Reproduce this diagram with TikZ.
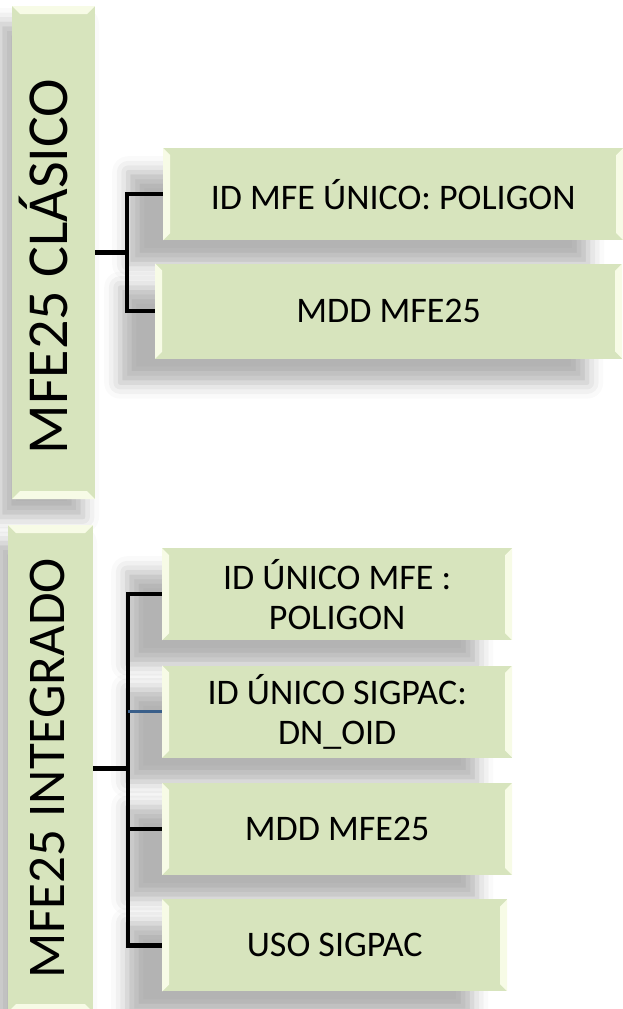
\documentclass[tikz,border=0pt]{standalone}
\usepackage{fontspec}
\usepackage{graphicx}
\setmainfont{Carlito}
\usetikzlibrary{positioning, shadows.blur}
\definecolor{boxgreen}{RGB}{215, 228, 189}
\definecolor{bevellight}{RGB}{247, 251, 230}
\definecolor{linkblue}{RGB}{58, 95, 138}

\begin{document}
\begin{tikzpicture}[x=1pt, y=1pt,
    groupbox/.style={rectangle, fill=boxgreen, inner sep=0pt, align=center,
                     blur shadow={shadow xshift=-12pt, shadow yshift=-18pt,
                                  shadow blur radius=16pt, shadow opacity=30},
                     path picture={
                       \fill[bevellight] (path picture bounding box.north west) -- (path picture bounding box.north east)
                         -- ([shift={(-8,-8)}]path picture bounding box.north east) -- ([shift={(8,-8)}]path picture bounding box.north west) -- cycle;
                       \fill[bevellight] (path picture bounding box.south west) -- (path picture bounding box.south east)
                         -- ([shift={(-8,8)}]path picture bounding box.south east) -- ([shift={(8,8)}]path picture bounding box.south west) -- cycle;
                     }},
    itembox/.style={rectangle, fill=boxgreen, inner sep=0pt, align=center,
                    minimum height=92pt, font=\fontsize{36}{40}\selectfont,
                    blur shadow={shadow xshift=-35pt, shadow yshift=-24pt,
                                 shadow blur radius=16pt, shadow opacity=30},
                    path picture={
                      \fill[bevellight] (path picture bounding box.north west) -- (path picture bounding box.south west)
                        -- ([shift={(7,7)}]path picture bounding box.south west) -- ([shift={(7,-7)}]path picture bounding box.north west) -- cycle;
                      \fill[bevellight] (path picture bounding box.north east) -- (path picture bounding box.south east)
                        -- ([shift={(-7,7)}]path picture bounding box.south east) -- ([shift={(-7,-7)}]path picture bounding box.north east) -- cycle;
                    }},
    link/.style={line width=4.5pt, color=black},
]
    \useasboundingbox (0,0) rectangle (623,-1009);

    % MFE25 clasico
    \node[groupbox, minimum width=83pt, minimum height=493pt, font=\fontsize{58}{60}\selectfont] (clasico) at (53.5,-252.5)
        {\rotatebox{90}{\raisebox{0pt}[40pt][12pt]{MFE25 CLÁSICO\hspace*{28pt}}}};
    \node[itembox, anchor=north west, minimum width=460pt] (cid) at (163,-148) {ID MFE ÚNICO: POLIGON};
    \node[itembox, below right=23pt and -8pt of cid.south west, anchor=north west,
          minimum width=467pt, minimum height=95pt] (cmdd) {MDD MFE25};

    % MFE25 integrado
    \node[groupbox, minimum width=85pt, minimum height=487pt, font=\fontsize{53}{60}\selectfont] (integrado) at (50.5,-768.5)
        {\rotatebox{90}{\raisebox{0pt}[40pt][12pt]{MFE25 INTEGRADO}}};
    \node[itembox, anchor=north west, minimum width=350pt] (iid) at (162,-548) {ID ÚNICO MFE :\\POLIGON};
    \node[itembox, below=25pt of iid, minimum width=350pt] (isig) {ID ÚNICO SIGPAC:\\DN\_OID};
    \node[itembox, below=25pt of isig, minimum width=350pt] (imdd) {MDD MFE25};
    \node[itembox, below right=24pt and 0pt of imdd.south west, anchor=north west,
          minimum width=345pt] (iuso) {USO SIGPAC};

    % connectors
    \draw[link] (clasico.east) -- ++(32,0) coordinate (ctrunk);
    \draw[link] (ctrunk) |- (cid.west);
    \draw[link] (ctrunk) |- (cmdd.west);

    \draw[link] (integrado.east) -- ++(35,0) coordinate (itrunk);
    \draw[link] (itrunk) |- (iid.west);
    \draw[link] (itrunk) |- (imdd.west);
    \draw[link] (itrunk) |- (iuso.west);
    \draw[link, color=linkblue, line width=3.5pt] (itrunk |- isig.west) -- (isig.west);
\end{tikzpicture}
\end{document}
